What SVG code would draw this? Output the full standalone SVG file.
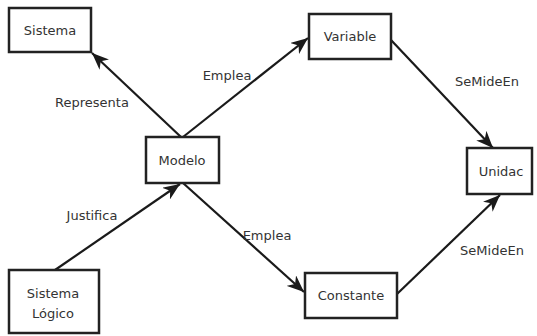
<svg xmlns="http://www.w3.org/2000/svg" width="537" height="336" viewBox="0 0 537 336">
<style>
.box{fill:#fff;stroke:#222;stroke-width:2.5}
.lbl{font-family:"DejaVu Sans",sans-serif;font-size:13px;fill:#333;text-anchor:middle}
.edge{stroke:#1a1a1a;stroke-width:2.2;fill:none;marker-end:url(#ah)}
</style>
<defs>
<marker id="ah" markerUnits="userSpaceOnUse" markerWidth="18" markerHeight="14" refX="17" refY="7" orient="auto">
<path d="M0,0 L17,7 L0,14 L5,7 z" fill="#1a1a1a"/>
</marker>
</defs>
<rect width="537" height="336" fill="#fff"/>
<g id="connectors">
<line class="edge" x1="181" y1="137" x2="92" y2="53"/>
<line class="edge" x1="183" y1="137" x2="308" y2="38"/>
<line class="edge" x1="391" y1="40" x2="493" y2="148"/>
<line class="edge" x1="55" y1="270" x2="180" y2="184"/>
<line class="edge" x1="183" y1="183" x2="304" y2="292"/>
<line class="edge" x1="397" y1="294" x2="500" y2="195"/>
<text class="lbl" x="92" y="107">Representa</text>
<text class="lbl" x="227" y="80">Emplea</text>
<text class="lbl" x="487" y="86">SeMideEn</text>
<text class="lbl" x="92" y="220">Justifica</text>
<text class="lbl" x="267" y="240">Emplea</text>
<text class="lbl" x="492" y="255">SeMideEn</text>
</g>
<g id="sistema"><rect class="box" x="9" y="8" width="82" height="44"/><text class="lbl" x="50" y="35">Sistema</text></g>
<g id="variable"><rect class="box" x="309" y="14" width="82" height="45"/><text class="lbl" x="350" y="41">Variable</text></g>
<g id="modelo"><rect class="box" x="146" y="137" width="73" height="46"/><text class="lbl" x="182" y="165">Modelo</text></g>
<g id="unidac"><rect class="box" x="467" y="148" width="65" height="46"/><text class="lbl" x="501" y="176">Unidac</text></g>
<g id="constante"><rect class="box" x="305" y="273" width="92" height="45"/><text class="lbl" x="351" y="300">Constante</text></g>
<g id="sistema-logico"><rect class="box" x="9" y="270" width="90" height="63"/><text class="lbl" x="53" y="298">Sistema</text><text class="lbl" x="53" y="318">Lógico</text></g>
</svg>
